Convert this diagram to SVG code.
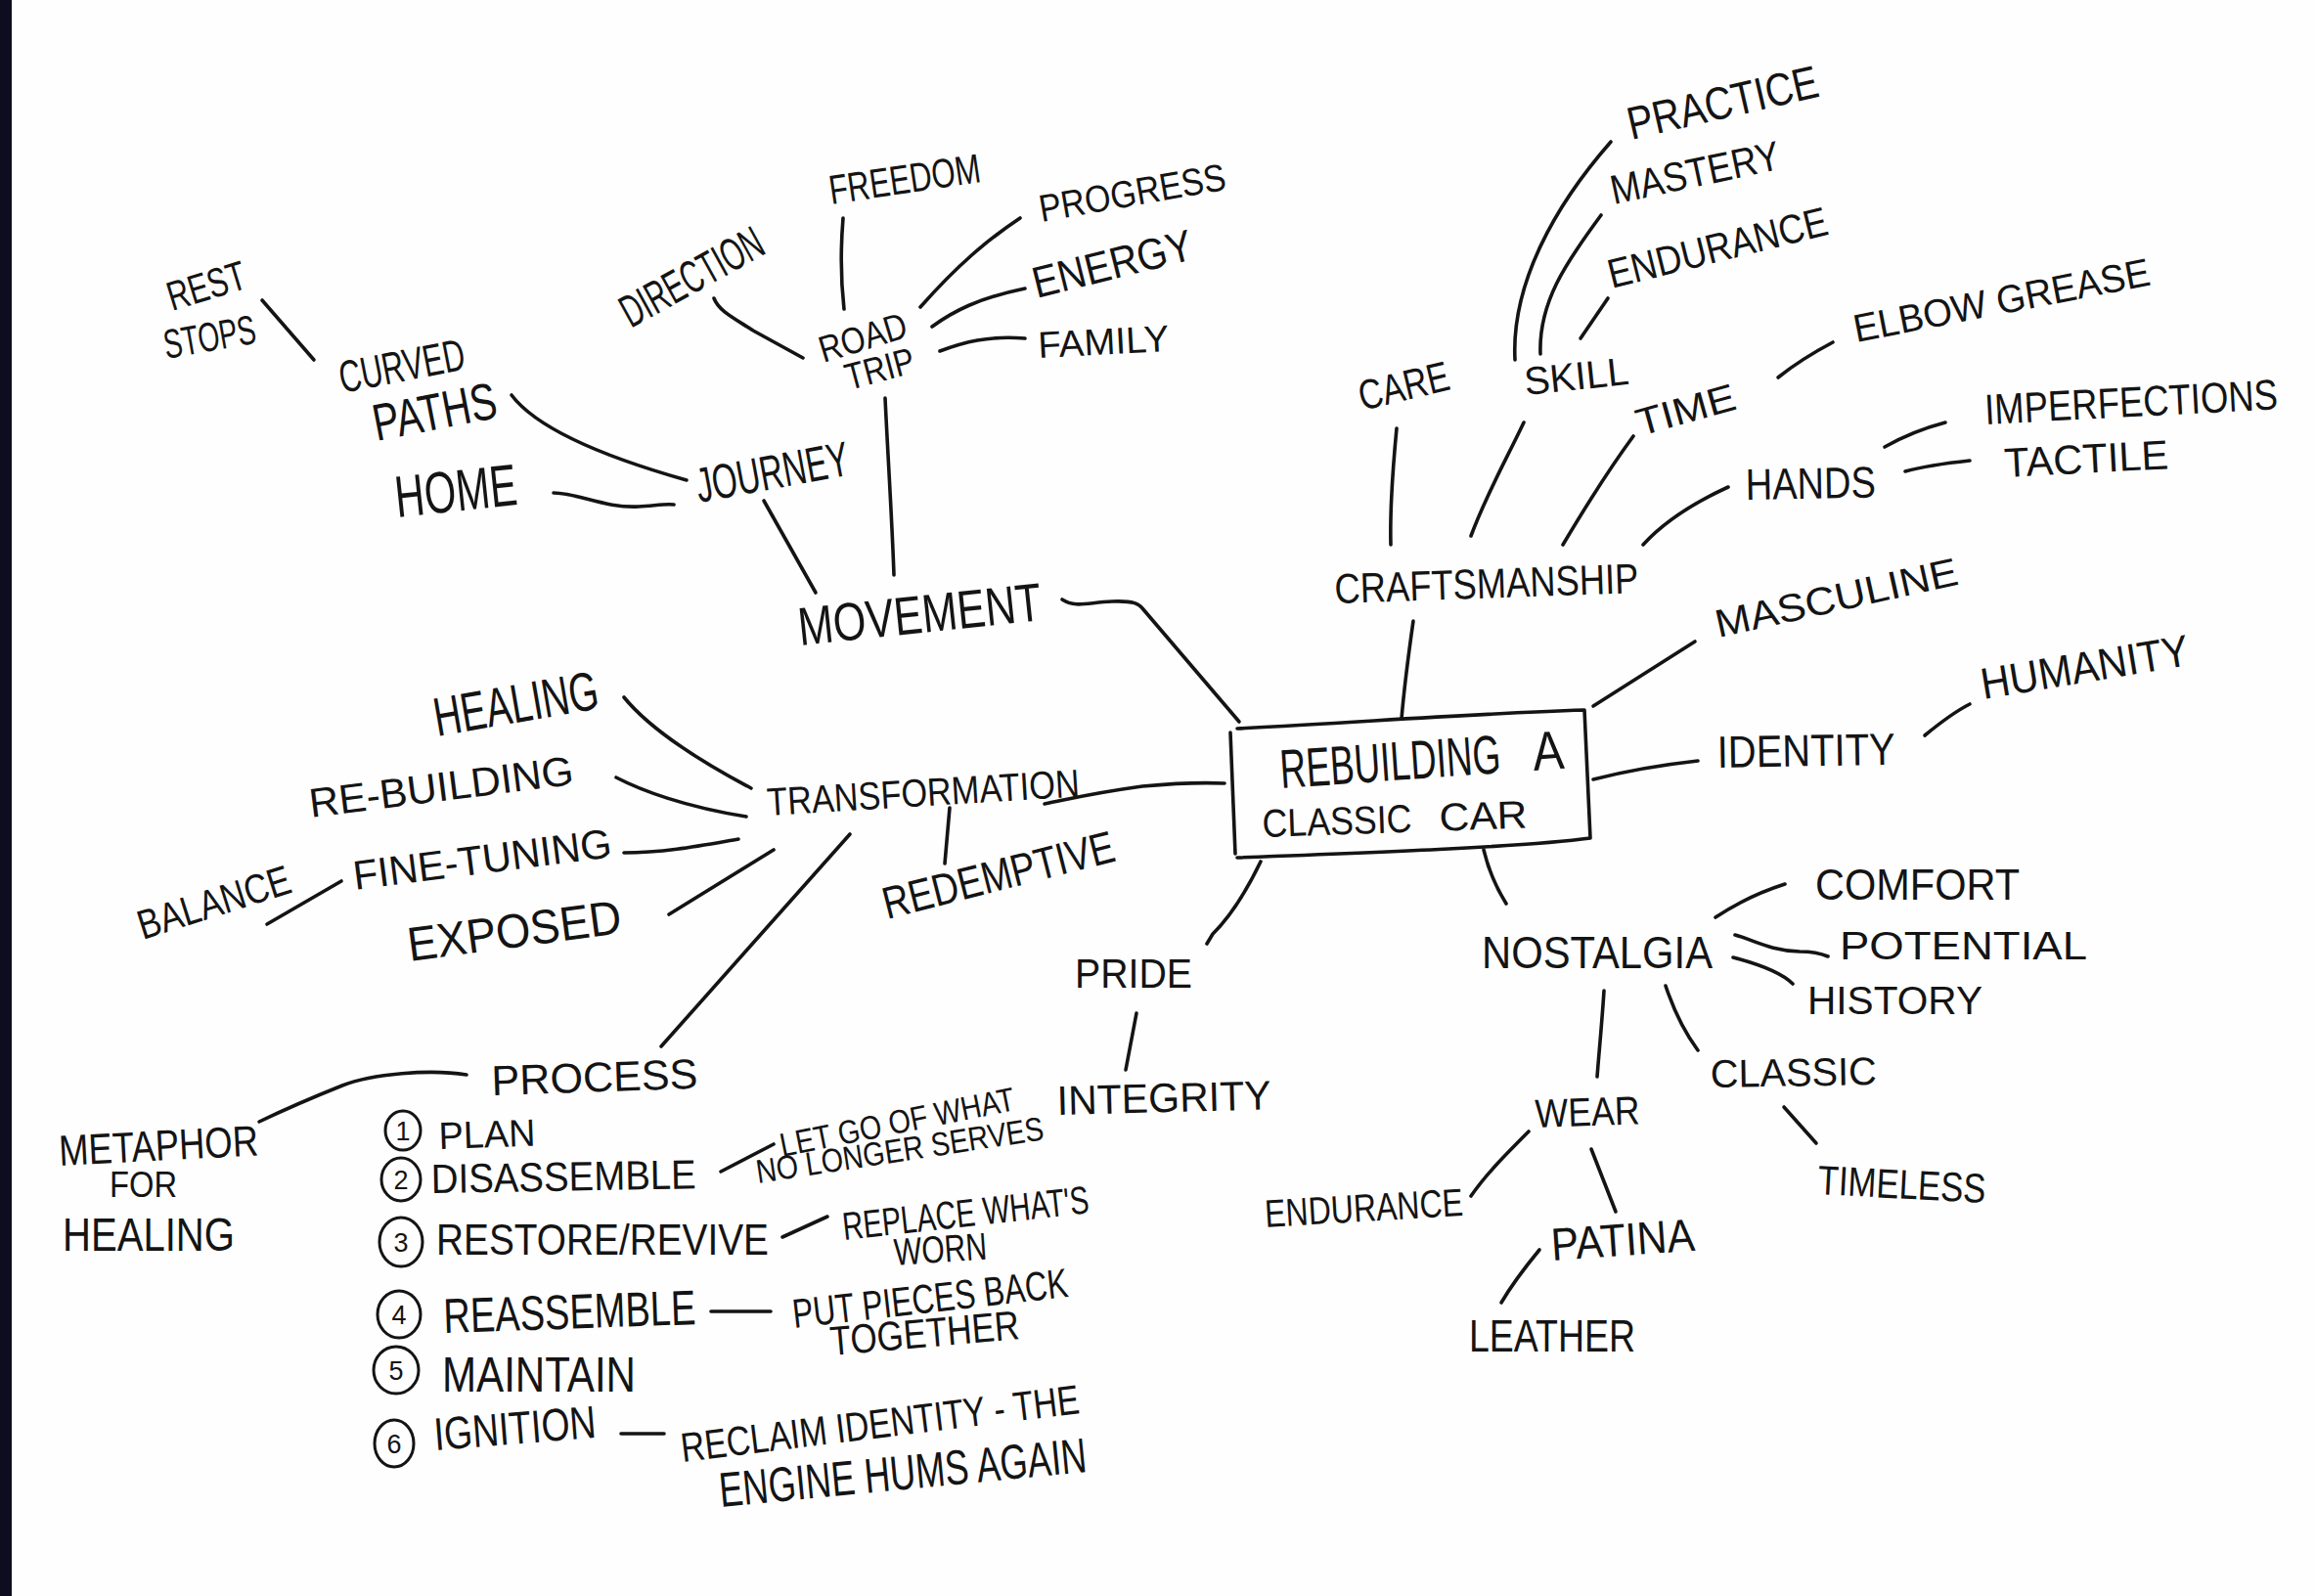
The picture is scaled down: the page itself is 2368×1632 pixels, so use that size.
<svg xmlns="http://www.w3.org/2000/svg" width="2368" height="1632" viewBox="0 0 2368 1632">
<style>
.t{font-family:"Liberation Sans",Arial,sans-serif;fill:#141414;}
.c{fill:none;stroke:#141414;stroke-width:3.6;stroke-linecap:round;stroke-linejoin:round;}
.n{font-family:"Liberation Sans",Arial,sans-serif;fill:#141414;font-size:27px;text-anchor:middle;}
</style>
<rect x="0" y="0" width="2368" height="1632" fill="#fefefe"/>
<rect x="0" y="0" width="12" height="1632" fill="#0d0d1f"/>

<g id="connectors">
<path class="c" d="M268,307 L321,368"/>
<path class="c" d="M523,404 C548,437 610,465 702,491"/>
<path class="c" d="M566,504 C590,504 620,520 653,518 C670,517 680,515 689,516"/>
<path class="c" d="M781,512 L834,606"/>
<path class="c" d="M730,305 C735,318 750,325 770,338 L821,366"/>
<path class="c" d="M862,223 C859,260 860,290 863,316"/>
<path class="c" d="M941,314 C980,270 1010,245 1043,223"/>
<path class="c" d="M953,334 C975,318 1000,305 1048,295"/>
<path class="c" d="M961,359 C985,350 1010,343 1048,346"/>
<path class="c" d="M905,407 C908,470 912,530 914,588"/>
<path class="c" d="M1086,613 C1100,622 1112,616 1137,615 C1160,614 1165,618 1168,622 L1267,738"/>
<path class="c" d="M1428,438 C1424,480 1421,520 1422,557"/>
<path class="c" d="M1558,432 C1540,470 1520,505 1504,548"/>
<path class="c" d="M1647,145 C1590,210 1545,290 1549,368"/>
<path class="c" d="M1637,220 C1600,270 1573,310 1575,362"/>
<path class="c" d="M1644,305 L1616,346"/>
<path class="c" d="M1818,386 C1838,370 1855,360 1874,350"/>
<path class="c" d="M1670,446 C1645,480 1620,520 1598,557"/>
<path class="c" d="M1767,498 C1730,515 1700,535 1680,557"/>
<path class="c" d="M1927,457 C1950,444 1970,437 1989,432"/>
<path class="c" d="M1948,482 C1970,476 1995,473 2014,471"/>
<path class="c" d="M1445,635 C1440,670 1436,700 1433,735"/>
<path class="c" d="M1629,722 L1733,656"/>
<path class="c" d="M1629,797 C1660,789 1700,782 1736,778"/>
<path class="c" d="M1968,752 C1985,738 2000,727 2014,720"/>
<path class="c" d="M1517,869 C1522,890 1530,908 1540,924"/>
<path class="c" d="M1754,938 C1775,924 1800,912 1825,904"/>
<path class="c" d="M1774,956 C1795,962 1810,972 1840,973 C1855,973 1862,975 1869,978"/>
<path class="c" d="M1772,979 C1795,985 1820,993 1833,1006"/>
<path class="c" d="M1640,1013 C1638,1045 1635,1075 1633,1101"/>
<path class="c" d="M1703,1008 C1712,1035 1722,1055 1736,1074"/>
<path class="c" d="M1824,1132 L1857,1169"/>
<path class="c" d="M1563,1157 C1540,1180 1520,1200 1504,1223"/>
<path class="c" d="M1627,1175 L1652,1239"/>
<path class="c" d="M1574,1278 C1560,1295 1545,1315 1535,1332"/>
<path class="c" d="M1289,881 C1275,910 1260,935 1240,955 L1234,965"/>
<path class="c" d="M1162,1036 L1151,1094"/>
<path class="c" d="M1068,822 C1090,818 1110,812 1168,804 C1200,801 1230,800 1252,801"/>
<path class="c" d="M971,826 L966,883"/>
<path class="c" d="M869,853 L676,1070"/>
<path class="c" d="M638,713 C660,740 700,770 768,806"/>
<path class="c" d="M630,795 C655,808 700,825 763,835"/>
<path class="c" d="M638,872 C680,872 720,864 755,858"/>
<path class="c" d="M273,945 L349,901"/>
<path class="c" d="M684,935 L791,869"/>
<path class="c" d="M477,1099 C440,1093 380,1098 350,1110 C320,1122 290,1135 265,1147"/>
<path class="c" d="M737,1198 L791,1170"/>
<path class="c" d="M800,1265 L846,1244"/>
<path class="c" d="M727,1341 L788,1341"/>
<path class="c" d="M635,1466 L679,1466"/>
</g>

<g id="center">
<path class="c" d="M1258,749 L1263,873 M1265,745 C1400,738 1500,730 1620,726 L1626,857 C1560,866 1400,872 1265,877"/>
<text class="t" transform="translate(1310,806) rotate(-4)" font-size="56"><tspan textLength="226" lengthAdjust="spacingAndGlyphs">REBUILDING</tspan> <tspan x="259" textLength="32" lengthAdjust="spacingAndGlyphs">A</tspan></text>
<text class="t" transform="translate(1291,856) rotate(-2)" font-size="40"><tspan textLength="153" lengthAdjust="spacingAndGlyphs">CLASSIC</tspan> <tspan x="181" textLength="90" lengthAdjust="spacingAndGlyphs">CAR</tspan></text>
</g>

<g id="rest-stops">
<text class="t" transform="translate(176,318) rotate(-17)" font-size="42" textLength="82" lengthAdjust="spacingAndGlyphs">REST</text>
<text class="t" transform="translate(170,367) rotate(-10)" font-size="42" textLength="95" lengthAdjust="spacingAndGlyphs">STOPS</text>
</g>
<g id="curved-paths">
<text class="t" transform="translate(350,402) rotate(-11)" font-size="46" textLength="130" lengthAdjust="spacingAndGlyphs">CURVED</text>
<text class="t" transform="translate(385,451) rotate(-11)" font-size="53" textLength="128" lengthAdjust="spacingAndGlyphs">PATHS</text>
</g>
<g id="home"><text class="t" transform="translate(406,529) rotate(-6)" font-size="60" textLength="125" lengthAdjust="spacingAndGlyphs">HOME</text></g>
<g id="journey"><text class="t" transform="translate(715,514) rotate(-10.5)" font-size="50" textLength="158" lengthAdjust="spacingAndGlyphs">JOURNEY</text></g>
<g id="direction"><text class="t" transform="translate(645,336) rotate(-29)" font-size="47" textLength="160" lengthAdjust="spacingAndGlyphs">DIRECTION</text></g>
<g id="road-trip">
<text class="t" transform="translate(842,371) rotate(-17)" font-size="38" textLength="92" lengthAdjust="spacingAndGlyphs">ROAD</text>
<text class="t" transform="translate(868,399) rotate(-15)" font-size="38" textLength="72" lengthAdjust="spacingAndGlyphs">TRIP</text>
</g>
<g id="freedom"><text class="t" transform="translate(850,209) rotate(-8.5)" font-size="42" textLength="156" lengthAdjust="spacingAndGlyphs">FREEDOM</text></g>
<g id="progress"><text class="t" transform="translate(1065,227) rotate(-10)" font-size="39" textLength="193" lengthAdjust="spacingAndGlyphs">PROGRESS</text></g>
<g id="energy"><text class="t" transform="translate(1060,305) rotate(-14)" font-size="45" textLength="167" lengthAdjust="spacingAndGlyphs">ENERGY</text></g>
<g id="family"><text class="t" transform="translate(1062,366) rotate(-3)" font-size="38" textLength="134" lengthAdjust="spacingAndGlyphs">FAMILY</text></g>
<g id="movement"><text class="t" transform="translate(818,660) rotate(-6)" font-size="55" textLength="250" lengthAdjust="spacingAndGlyphs">MOVEMENT</text></g>

<g id="care"><text class="t" transform="translate(1393,420) rotate(-13.6)" font-size="43" textLength="94" lengthAdjust="spacingAndGlyphs">CARE</text></g>
<g id="skill"><text class="t" transform="translate(1560,404) rotate(-6)" font-size="40" textLength="107" lengthAdjust="spacingAndGlyphs">SKILL</text></g>
<g id="practice"><text class="t" transform="translate(1668,143) rotate(-13)" font-size="47" textLength="199" lengthAdjust="spacingAndGlyphs">PRACTICE</text></g>
<g id="mastery"><text class="t" transform="translate(1650,209) rotate(-12)" font-size="42" textLength="176" lengthAdjust="spacingAndGlyphs">MASTERY</text></g>
<g id="endurance-skill"><text class="t" transform="translate(1648,295) rotate(-14)" font-size="42" textLength="230" lengthAdjust="spacingAndGlyphs">ENDURANCE</text></g>
<g id="time"><text class="t" transform="translate(1677,446) rotate(-15.6)" font-size="39" textLength="104" lengthAdjust="spacingAndGlyphs">TIME</text></g>
<g id="elbow-grease"><text class="t" transform="translate(1898,350) rotate(-11)" font-size="40" textLength="308" lengthAdjust="spacingAndGlyphs">ELBOW GREASE</text></g>
<g id="hands"><text class="t" transform="translate(1785,511) rotate(-1)" font-size="45" textLength="133" lengthAdjust="spacingAndGlyphs">HANDS</text></g>
<g id="imperfections"><text class="t" transform="translate(2030,434) rotate(-3) scale(1,1.15)" font-size="38" textLength="300" lengthAdjust="spacingAndGlyphs">IMPERFECTIONS</text></g>
<g id="tactile"><text class="t" transform="translate(2050,488) rotate(-3)" font-size="42" textLength="168" lengthAdjust="spacingAndGlyphs">TACTILE</text></g>
<g id="craftsmanship"><text class="t" transform="translate(1365,617) rotate(-2)" font-size="43" textLength="311" lengthAdjust="spacingAndGlyphs">CRAFTSMANSHIP</text></g>

<g id="masculine"><text class="t" transform="translate(1757,652) rotate(-12.5)" font-size="40" textLength="253" lengthAdjust="spacingAndGlyphs">MASCULINE</text></g>
<g id="identity"><text class="t" transform="translate(1756,785) rotate(-1)" font-size="46" textLength="182" lengthAdjust="spacingAndGlyphs">IDENTITY</text></g>
<g id="humanity"><text class="t" transform="translate(2028,715) rotate(-9.4)" font-size="45" textLength="215" lengthAdjust="spacingAndGlyphs">HUMANITY</text></g>

<g id="nostalgia"><text class="t" transform="translate(1515,990)" font-size="47" textLength="236" lengthAdjust="spacingAndGlyphs">NOSTALGIA</text></g>
<g id="comfort"><text class="t" transform="translate(1856,920)" font-size="45" textLength="209" lengthAdjust="spacingAndGlyphs">COMFORT</text></g>
<g id="potential"><text class="t" transform="translate(1881,981)" font-size="41" textLength="253" lengthAdjust="spacingAndGlyphs">POTENTIAL</text></g>
<g id="history"><text class="t" transform="translate(1848,1037)" font-size="40" textLength="179" lengthAdjust="spacingAndGlyphs">HISTORY</text></g>
<g id="classic"><text class="t" transform="translate(1749,1112) rotate(-1)" font-size="40" textLength="170" lengthAdjust="spacingAndGlyphs">CLASSIC</text></g>
<g id="timeless"><text class="t" transform="translate(1858,1221) rotate(3)" font-size="42" textLength="172" lengthAdjust="spacingAndGlyphs">TIMELESS</text></g>
<g id="wear"><text class="t" transform="translate(1570,1153) rotate(-2)" font-size="41" textLength="107" lengthAdjust="spacingAndGlyphs">WEAR</text></g>
<g id="endurance-wear"><text class="t" transform="translate(1294,1255) rotate(-3.4)" font-size="40" textLength="203" lengthAdjust="spacingAndGlyphs">ENDURANCE</text></g>
<g id="patina"><text class="t" transform="translate(1587,1289) rotate(-4)" font-size="47" textLength="147" lengthAdjust="spacingAndGlyphs">PATINA</text></g>
<g id="leather"><text class="t" transform="translate(1502,1382)" font-size="46" textLength="170" lengthAdjust="spacingAndGlyphs">LEATHER</text></g>

<g id="pride"><text class="t" transform="translate(1099,1010)" font-size="43" textLength="120" lengthAdjust="spacingAndGlyphs">PRIDE</text></g>
<g id="integrity"><text class="t" transform="translate(1081,1140) rotate(-1.5)" font-size="42" textLength="219" lengthAdjust="spacingAndGlyphs">INTEGRITY</text></g>

<g id="transformation"><text class="t" transform="translate(785,834) rotate(-3.5)" font-size="40" textLength="320" lengthAdjust="spacingAndGlyphs">TRANSFORMATION</text></g>
<g id="redemptive"><text class="t" transform="translate(907,940) rotate(-14.3)" font-size="46" textLength="243" lengthAdjust="spacingAndGlyphs">REDEMPTIVE</text></g>
<g id="healing"><text class="t" transform="translate(447,753) rotate(-9.8)" font-size="56" textLength="170" lengthAdjust="spacingAndGlyphs">HEALING</text></g>
<g id="re-building"><text class="t" transform="translate(318,836) rotate(-7.2)" font-size="42" textLength="272" lengthAdjust="spacingAndGlyphs">RE-BUILDING</text></g>
<g id="fine-tuning"><text class="t" transform="translate(363,910) rotate(-7.3)" font-size="42" textLength="266" lengthAdjust="spacingAndGlyphs">FINE-TUNING</text></g>
<g id="balance"><text class="t" transform="translate(146,961) rotate(-17.6)" font-size="42" textLength="162" lengthAdjust="spacingAndGlyphs">BALANCE</text></g>
<g id="exposed"><text class="t" transform="translate(419,983) rotate(-7.6)" font-size="49" textLength="220" lengthAdjust="spacingAndGlyphs">EXPOSED</text></g>

<g id="process"><text class="t" transform="translate(503,1120) rotate(-2)" font-size="43" textLength="211" lengthAdjust="spacingAndGlyphs">PROCESS</text></g>
<g id="metaphor">
<text class="t" transform="translate(61,1192) rotate(-3)" font-size="44" textLength="204" lengthAdjust="spacingAndGlyphs">METAPHOR</text>
<text class="t" transform="translate(112,1224)" font-size="36" textLength="69" lengthAdjust="spacingAndGlyphs">FOR</text>
<text class="t" transform="translate(64,1279)" font-size="48" textLength="176" lengthAdjust="spacingAndGlyphs">HEALING</text>
</g>

<g id="step-1">
<ellipse cx="412" cy="1156" rx="18" ry="20" fill="none" stroke="#141414" stroke-width="3"/>
<text class="n" x="412" y="1166">1</text>
<text class="t" transform="translate(449,1175) rotate(-2)" font-size="39" textLength="99" lengthAdjust="spacingAndGlyphs">PLAN</text>
</g>
<g id="step-2">
<ellipse cx="410" cy="1206" rx="20" ry="22" fill="none" stroke="#141414" stroke-width="3"/>
<text class="n" x="410" y="1216">2</text>
<text class="t" transform="translate(441,1220) rotate(-1)" font-size="42" textLength="271" lengthAdjust="spacingAndGlyphs">DISASSEMBLE</text>
</g>
<g id="step-2-note">
<text class="t" transform="translate(800,1183) rotate(-11.4)" font-size="34" textLength="244" lengthAdjust="spacingAndGlyphs">LET GO OF WHAT</text>
<text class="t" transform="translate(775,1210) rotate(-8.7)" font-size="34" textLength="297" lengthAdjust="spacingAndGlyphs">NO LONGER SERVES</text>
</g>
<g id="step-3">
<ellipse cx="410" cy="1270" rx="22" ry="25" fill="none" stroke="#141414" stroke-width="3"/>
<text class="n" x="410" y="1280">3</text>
<text class="t" transform="translate(446,1283)" font-size="45" textLength="340" lengthAdjust="spacingAndGlyphs">RESTORE/REVIVE</text>
</g>
<g id="step-3-note">
<text class="t" transform="translate(863,1268) rotate(-6.3)" font-size="40" textLength="253" lengthAdjust="spacingAndGlyphs">REPLACE WHAT'S</text>
<text class="t" transform="translate(915,1294) rotate(-4)" font-size="39" textLength="95" lengthAdjust="spacingAndGlyphs">WORN</text>
</g>
<g id="step-4">
<ellipse cx="408" cy="1344" rx="22" ry="24" fill="none" stroke="#141414" stroke-width="3"/>
<text class="n" x="408" y="1354">4</text>
<text class="t" transform="translate(454,1363) rotate(-2)" font-size="50" textLength="258" lengthAdjust="spacingAndGlyphs">REASSEMBLE</text>
</g>
<g id="step-4-note">
<text class="t" transform="translate(812,1358) rotate(-6.5)" font-size="42" textLength="283" lengthAdjust="spacingAndGlyphs">PUT PIECES BACK</text>
<text class="t" transform="translate(850,1386) rotate(-5)" font-size="42" textLength="194" lengthAdjust="spacingAndGlyphs">TOGETHER</text>
</g>
<g id="step-5">
<ellipse cx="405" cy="1401" rx="23" ry="24" fill="none" stroke="#141414" stroke-width="3"/>
<text class="n" x="405" y="1411">5</text>
<text class="t" transform="translate(452,1423)" font-size="50" textLength="198" lengthAdjust="spacingAndGlyphs">MAINTAIN</text>
</g>
<g id="step-6">
<ellipse cx="403" cy="1476" rx="20" ry="24" fill="none" stroke="#141414" stroke-width="3"/>
<text class="n" x="403" y="1486">6</text>
<text class="t" transform="translate(445,1483) rotate(-4.5)" font-size="47" textLength="166" lengthAdjust="spacingAndGlyphs">IGNITION</text>
</g>
<g id="step-6-note">
<text class="t" transform="translate(698,1495) rotate(-7)" font-size="42" textLength="410" lengthAdjust="spacingAndGlyphs">RECLAIM IDENTITY - THE</text>
<text class="t" transform="translate(737,1541) rotate(-5.5)" font-size="50" textLength="377" lengthAdjust="spacingAndGlyphs">ENGINE HUMS AGAIN</text>
</g>
</svg>
